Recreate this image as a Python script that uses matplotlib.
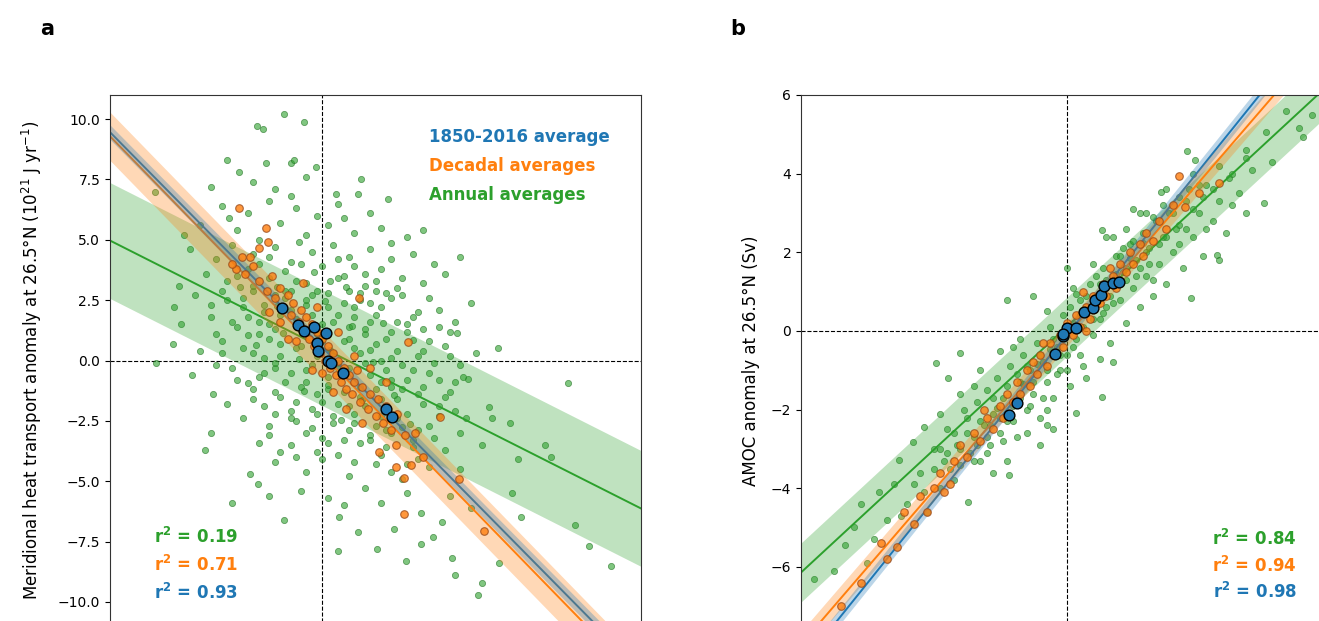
import numpy as np
import matplotlib
matplotlib.use("Agg")
import matplotlib.pyplot as plt

# colours
c_blue = "#1f77b4"
c_orange = "#ff7f0e"
c_green = "#2ca02c"

# ---------------- panel a data ----------------
ann_a = [
    (-0.72, 10.2), (-0.34, 9.9), (-1.24, 9.7), (-1.11, 9.6),
    (-1.8, 8.3), (-0.6, 8.2), (-0.54, 8.3), (-1.07, 8.2), (-0.12, 8.0), (-1.58, 7.8), (0.72, 7.5),
    (-1.3, 7.4), (-0.9, 7.1), (0.25, 6.9), (0.67, 6.9), (1.24, 6.7), (-2.1, 7.2), (-0.3, 7.6), (-3.16, 7.0),
    (-1.9, 6.4), (-1.4, 6.1), (-1.0, 6.6), (-0.5, 6.3), (-0.1, 6.0), (0.3, 6.5), (0.9, 6.1), (-2.3, 5.6),
    (-1.6, 5.4), (-0.8, 5.7), (-0.3, 5.2), (0.1, 5.6), (0.6, 5.3), (1.1, 5.5), (1.6, 5.1), (-1.2, 5.0),
    (-2.6, 5.2), (0.4, 5.9), (-0.6, 6.8), (1.9, 5.4), (-1.75, 5.9),
    (-2.5, 4.6), (-2.0, 4.2), (-1.7, 4.8), (-1.3, 4.4), (-0.9, 4.7), (-0.6, 4.1), (-0.2, 4.5), (0.2, 4.8),
    (0.5, 4.3), (0.9, 4.6), (1.3, 4.2), (1.7, 4.4), (2.1, 4.0), (-2.2, 3.6), (-1.8, 3.3), (-1.4, 3.8),
    (-1.0, 3.4), (-0.7, 3.7), (-0.3, 3.2), (0.0, 3.9), (0.4, 3.5), (0.8, 3.1), (1.1, 3.8), (1.5, 3.4),
    (1.9, 3.2), (-2.7, 3.1), (-1.2, 4.0), (0.6, 3.9), (-0.45, 4.9), (1.3, 4.85), (2.3, 3.6), (-1.55, 3.05),
    (0.15, 3.3), (-0.85, 3.05), (2.6, 4.3),
    (-2.8, 2.2), (-2.4, 2.7), (-2.1, 1.8), (-1.8, 2.5), (-1.6, 1.4), (-1.3, 2.9), (-1.1, 2.0), (-0.9, 1.3),
    (-0.7, 2.6), (-0.5, 1.7), (-0.3, 2.3), (-0.1, 1.1), (0.1, 2.8), (0.3, 1.9), (0.5, 1.4), (0.7, 2.5),
    (0.9, 1.6), (1.1, 2.2), (1.3, 1.2), (1.5, 2.7), (1.7, 1.8), (1.9, 1.3), (2.2, 2.1), (2.5, 1.6),
    (-2.0, 1.1), (-1.5, 2.2), (-0.8, 1.9), (-0.2, 2.7), (0.4, 2.4), (0.8, 1.1), (1.2, 2.8), (1.6, 1.5),
    (2.0, 2.6), (-1.2, 1.6), (0.0, 1.5), (0.6, 1.8), (-0.6, 2.9), (2.8, 2.4), (2.4, 1.2), (-2.66, 1.5),
    (2.54, 1.16), (-1.4, 1.05), (1.0, 2.9), (-0.4, 1.25),
    (-2.81, 0.7), (-3.13, -0.1), (-2.46, -0.6), (-2.3, 0.4), (-1.9, 0.8), (-1.7, -0.3), (-1.5, 0.5),
    (-1.2, -0.7), (-1.0, 0.9), (-0.8, 0.2), (-0.6, -0.5), (-0.4, 0.6), (-0.2, -0.2), (0.0, 0.8), (0.2, 0.3),
    (0.4, -0.6), (0.6, 0.5), (0.8, -0.1), (1.0, 0.7), (1.2, -0.4), (1.4, 0.4), (1.6, -0.8), (1.8, 0.2),
    (2.0, -0.5), (2.3, 0.6), (2.6, -0.2), (2.9, 0.3), (-2.0, -0.2), (-1.1, 0.1), (-0.3, -0.9), (0.5, 0.9),
    (1.1, -0.9), (1.7, 0.85), (2.2, -0.8), (-0.9, -0.3), (0.3, -0.3), (1.3, 0.1), (2.75, -0.75), (2.65, -0.7),
    (3.3, 0.5), (-1.4, -0.95), (0.1, -0.7), (0.9, 0.45),
    (-2.06, -1.4), (-2.1, -3.0), (-1.8, -1.8), (-1.5, -2.4), (-1.3, -1.2), (-1.0, -2.7), (-0.8, -1.5),
    (-0.6, -2.1), (-0.4, -1.1), (-0.2, -2.8), (0.0, -1.7), (0.2, -2.3), (0.4, -1.3), (0.6, -2.6), (0.8, -1.9),
    (1.0, -1.2), (1.2, -2.9), (1.4, -1.6), (1.6, -2.2), (1.8, -1.4), (2.0, -2.7), (2.2, -1.9), (2.4, -1.3),
    (2.7, -2.4), (3.13, -1.94), (3.53, -2.6), (3.2, -2.4), (4.63, -0.95), (-1.1, -1.9), (-0.5, -2.5),
    (0.1, -1.2), (0.7, -1.5), (1.1, -2.3), (1.5, -2.75), (1.9, -1.1), (2.5, -2.1), (-0.1, -2.2), (0.5, -1.9),
    (-0.9, -2.2), (1.3, -1.1),
    (-2.22, -3.7), (-1.36, -4.7), (-1.22, -5.1), (-1.2, -3.4), (-0.9, -4.2), (-0.6, -3.5), (-0.3, -4.6),
    (0.0, -3.2), (0.3, -3.9), (0.5, -4.8), (0.7, -3.4), (1.0, -4.3), (1.2, -3.6), (1.5, -4.9), (1.7, -3.3),
    (2.0, -4.4), (2.3, -3.7), (2.6, -4.5), (3.0, -3.5), (4.2, -3.5), (4.3, -4.0), (3.69, -4.07), (-0.1, -3.8),
    (0.9, -3.1), (1.8, -4.1), (-0.5, -4.0), (0.4, -3.3), (1.3, -4.6),
    (-1.71, -5.9), (-0.72, -6.6), (0.31, -6.5), (0.67, -7.1), (1.35, -7.0), (1.86, -6.3), (2.26, -6.7),
    (2.09, -7.3), (3.57, -5.5), (3.74, -6.5), (4.75, -6.8), (-0.4, -5.4), (0.1, -5.7), (0.8, -5.3),
    (1.1, -5.9), (1.6, -5.5), (2.4, -5.6), (2.8, -6.1), (-1.0, -5.6), (0.4, -6.0),
    (1.03, -7.8), (1.58, -8.3), (1.86, -7.6), (2.45, -8.2), (2.5, -8.9), (2.93, -9.7), (3.0, -9.2),
    (3.33, -8.4), (5.03, -7.7), (5.43, -8.5), (0.3, -7.9),
    # dense core
    (-1.3, 3.1), (-0.9, 2.7), (-0.5, 3.3), (-0.1, 2.9), (0.3, 3.4), (0.7, 2.8), (1.0, 3.3), (-1.5, 2.6),
    (-1.1, 2.3), (-0.7, 2.9), (-0.3, 2.5), (0.1, 2.2), (0.5, 2.9), (0.9, 2.4), (1.3, 2.6),
    (-1.4, 1.8), (-1.0, 1.5), (-0.6, 2.1), (-0.2, 1.9), (0.2, 1.6), (0.6, 2.2), (1.0, 1.9), (1.4, 1.6),
    (1.8, 2.0), (-1.2, 1.1), (-0.8, 0.7), (-0.4, 1.4), (0.0, 1.1), (0.4, 0.8), (0.8, 1.3), (1.2, 0.9),
    (1.6, 1.2), (2.0, 0.8), (-1.3, 0.3), (-0.9, -0.1), (-0.5, 0.5), (-0.1, 0.2), (0.3, -0.1), (0.7, 0.3),
    (1.1, 0.0), (1.5, -0.2), (1.9, 0.4), (-1.1, -0.5), (-0.7, -0.9), (-0.3, -0.4), (0.1, -1.0), (0.5, -0.3),
    (0.9, -0.6), (1.3, -0.8), (1.7, -0.4), (2.1, -0.1), (-0.9, -1.3), (-0.5, -1.7), (-0.1, -1.4), (0.3, -1.8),
    (0.7, -1.1), (1.1, -1.6), (1.5, -1.2), (1.9, -1.8), (2.3, -1.5), (-0.6, -2.4), (-0.2, -2.0), (0.2, -2.6),
    (0.6, -2.2), (1.0, -2.7), (1.4, -2.4), (1.8, -2.9), (2.2, -2.3), (-0.3, -3.0), (0.1, -3.4), (0.5, -2.9),
    (0.9, -3.3), (1.3, -3.0), (1.7, -3.6), (2.1, -3.2), (0.0, -4.1), (0.6, -4.2), (1.1, -3.9), (1.6, -4.3),
    (-1.6, 3.5), (-1.0, 4.3), (-0.4, 4.0), (0.3, 4.2), (0.8, 3.6), (1.4, 3.0), (-1.9, 2.9), (-2.1, 2.3),
    (-1.7, 1.6), (-1.9, 0.3), (-1.6, -0.8), (-1.3, -1.6), (-1.0, -3.1), (-0.8, -3.8), (2.5, -0.9),
    (2.6, -3.0), (2.4, 0.2), (2.2, 1.4), (-0.45, 0.05), (0.55, 1.45), (0.15, 0.45), (-0.75, 1.15),
    (0.95, -0.05), (1.35, -1.45), (-0.35, -1.25), (0.75, -1.65), (-0.85, 2.25), (0.05, 2.45), (1.15, 1.55),
    (-1.25, 0.65), (1.65, -2.65), (0.35, -2.45), (-0.15, 3.65), (0.45, 3.05),
]
dec_a = [
    (-1.58, 6.3), (-1.07, 5.5), (-1.19, 4.65), (-1.02, 4.9), (-1.62, 3.8), (-1.51, 4.3), (-1.36, 4.3),
    (-0.36, 3.2), (0.68, 2.6), (2.22, -2.35), (2.58, -4.9), (3.05, -7.05), (1.53, -6.35), (1.62, 0.75),
    (1.9, -4.0), (1.66, -4.35), (1.39, -4.4), (1.07, -3.8), (1.75, -3.0), (1.39, -3.5), (1.54, -4.85),
    (-1.7, 4.0), (-1.45, 3.6), (-1.3, 3.9), (-1.2, 3.3), (-1.05, 2.9), (-0.95, 3.5), (-0.9, 2.6), (-0.8, 3.0),
    (-0.75, 2.2), (-0.65, 2.7), (-0.6, 1.9), (-0.55, 2.4), (-0.45, 1.6), (-0.4, 2.1), (-0.35, 1.3), (-0.3, 1.8),
    (-0.25, 0.9), (-0.2, 1.5), (-0.15, 0.6), (-0.1, 1.2), (-0.05, 0.3), (0.0, 0.9), (0.05, 0.0), (0.1, 0.6),
    (0.15, -0.3), (0.2, 0.3), (0.25, -0.6), (0.3, 0.0), (0.35, -0.9), (0.4, -0.3), (0.45, -1.2), (0.5, -0.6),
    (0.55, -1.4), (0.6, -0.9), (0.7, -1.7), (0.75, -1.1), (0.85, -2.0), (0.9, -1.4), (1.0, -2.3), (1.05, -1.6),
    (1.15, -2.6), (1.2, -1.9), (1.3, -2.9), (1.4, -2.2), (1.55, -3.1), (-0.5, 0.8), (0.0, -0.5), (0.6, 0.2),
    (-0.8, 1.6), (0.3, 1.2), (-0.2, -0.4), (0.9, -0.3), (0.45, -2.0), (-1.0, 2.0), (-0.1, 2.2), (0.2, -1.3),
    (0.75, -2.6), (1.2, -0.9), (-0.65, 0.9), (0.65, -0.4),
]
avg_a = [
    (-0.76, 2.17), (-0.46, 1.49), (-0.34, 1.24), (-0.16, 1.38), (0.06, 1.15), (-0.1, 0.73),
    (-0.08, 0.39), (0.10, -0.04), (0.16, -0.11), (0.39, -0.51), (1.19, -2.03), (1.32, -2.36),
]
# fits: (intercept, slope, band half-width)
fit_a = {"ann": (0.53, -1.11, 2.4), "dec": (0.25, -2.26, 1.0), "avg": (0.54, -2.23, 0.3)}
r2_a = {"ann": "0.19", "dec": "0.71", "avg": "0.93"}

# ---------------- panel b data ----------------
ann_b = [
    (-3.8, -6.3), (-3.34, -5.44), (-3.2, -4.98), (-2.83, -4.09), (-2.52, -3.28), (-2.32, -2.82), (-2.14, -2.43),
    (-1.97, -0.82), (-1.6, -0.57), (-1.79, -1.2), (-1.48, -4.35), (-0.87, -3.66), (0.53, -1.68), (0.15, -2.08),
    (-0.3, -2.39), (-3.0, -5.9), (-3.5, -6.1), (-2.7, -4.8), (-2.9, -5.3), (-2.4, -4.4), (-2.6, -3.9), (-3.1, -4.4),
    (1.82, 4.57), (1.93, 4.35), (3.0, 5.06), (3.5, 5.16), (3.57, 4.93), (2.97, 3.25), (2.27, 1.93), (1.88, 0.84),
    (-0.9, 0.79), (0.53, 2.57), (1.42, 3.53), (2.5, 4.0), (3.3, 5.6), (3.7, 5.5), (2.7, 4.6), (2.2, 3.6), (3.1, 4.3),
    (-2.2, -3.6), (-2.1, -4.6), (-2.0, -3.0), (-1.9, -4.0), (-1.85, -3.3), (-1.8, -2.5), (-1.7, -3.8),
    (-1.65, -2.9), (-1.6, -3.4), (-1.5, -2.2), (-1.45, -3.1), (-1.4, -2.7), (-1.35, -1.8), (-1.3, -3.3),
    (-1.25, -2.4), (-1.2, -1.5), (-1.15, -2.9), (-1.1, -2.1), (-1.05, -1.2), (-1.0, -2.6), (-0.95, -1.7),
    (-0.9, -2.3), (-0.85, -0.9), (-0.8, -1.9), (-0.75, -2.7), (-0.7, -1.3), (-0.65, -0.6), (-0.6, -2.0),
    (-0.55, -1.0), (-0.5, -1.6), (-0.45, -0.3), (-0.4, -2.2), (-0.35, -0.8), (-0.3, -1.3), (-0.25, 0.1),
    (-0.2, -1.7), (-0.15, -0.4), (-0.1, -1.0), (-0.05, 0.4), (0.0, -0.6), (0.05, -1.4), (0.1, 0.2),
    (0.15, -0.2), (0.2, 0.8), (0.25, -0.9), (0.3, 0.5), (0.35, 1.2), (0.4, -0.1), (0.45, 0.9), (0.5, 0.3),
    (0.55, 1.6), (0.6, 0.6), (0.65, -0.3), (0.7, 1.3), (0.75, 1.9), (0.8, 0.8), (0.85, 1.5), (0.9, 0.2),
    (0.95, 2.2), (1.0, 1.1), (1.05, 1.8), (1.1, 0.6), (1.15, 2.5), (1.2, 1.4), (1.25, 2.1), (1.3, 0.9),
    (1.35, 2.8), (1.4, 1.7), (1.45, 2.4), (1.5, 1.2), (1.55, 3.0), (1.6, 2.0), (1.7, 2.7), (1.75, 1.6),
    (1.8, 3.3), (1.9, 2.4), (2.0, 3.0), (2.05, 1.9), (2.1, 3.7), (2.2, 2.8), (2.3, 3.3), (2.4, 2.5),
    (2.45, 3.9), (2.6, 3.5), (2.7, 3.0), (2.8, 4.1), (-0.7, -0.2), (-0.3, 0.5), (0.1, 1.1), (0.5, -0.7),
    (-1.0, -0.5), (-1.3, -1.0), (0.9, 1.6), (-0.2, -2.5), (0.3, -1.2), (1.2, 3.0), (-1.6, -1.6), (-2.5, -4.7),
    (-1.9, -2.1), (0.7, -0.8), (1.5, 3.6), (-0.5, 0.9), (0.0, 1.6), (-0.9, -3.3), (1.9, 4.0), (2.3, 1.8),
    (-1.1, -3.6), (-0.4, -2.9), (0.6, 2.4), (1.0, 3.1),
    # dense core
    (-1.8, -3.1), (-1.7, -2.6), (-1.6, -3.0), (-1.5, -2.6), (-1.4, -3.3), (-1.3, -2.3), (-1.2, -2.7),
    (-1.1, -1.7), (-1.0, -2.2), (-0.9, -1.4), (-0.8, -2.3), (-0.7, -1.7), (-0.6, -0.9), (-0.5, -1.3),
    (-0.4, -0.6), (-0.3, -1.0), (-0.2, -0.2), (-0.1, -0.6), (0.0, 0.1), (0.1, -0.4), (0.2, 0.4), (0.3, 0.9),
    (0.4, 0.3), (0.5, 1.2), (0.6, 1.3), (0.7, 0.7), (0.8, 1.9), (0.9, 1.3), (1.0, 2.3), (1.1, 1.6),
    (1.2, 2.0), (1.3, 2.9), (1.4, 2.2), (1.5, 2.4), (1.6, 3.0), (1.7, 3.4), (1.8, 2.6), (1.9, 3.1),
    (2.0, 3.7), (2.1, 2.6), (-1.75, -3.5), (-1.55, -2.0), (-1.35, -2.9), (-1.15, -2.4), (-0.95, -2.8),
    (-0.75, -1.1), (-0.55, -1.9), (-0.35, -1.7), (-0.15, -1.1), (0.05, 0.6), (0.25, 0.1), (0.45, 1.4),
    (0.65, 0.9), (0.85, 2.1), (1.05, 1.4), (1.25, 1.7), (1.45, 3.2), (1.65, 2.6), (1.85, 3.6), (2.05, 3.4),
    (-2.3, -3.9), (-2.0, -3.5), (-1.9, -3.0), (-2.15, -4.1), (-1.2, -3.1), (-0.6, -2.6), (0.0, -1.0),
    (0.4, 1.7), (0.9, 2.6), (1.3, 1.3), (1.7, 2.2), (2.3, 4.2), (2.5, 3.2), (2.7, 4.4), (-0.3, -2.0),
    (0.2, -0.6), (0.7, 2.4), (1.1, 3.0), (-1.4, -1.4), (-0.8, -0.4), (-0.45, -0.85), (0.35, 0.55),
    (0.75, 1.45), (-1.05, -1.95), (1.15, 2.25), (-0.25, -0.45), (0.55, 0.45), (-0.65, -1.35), (0.15, 0.95),
    (0.95, 1.85),
]
dec_b = [
    (-2.56, -5.5), (1.70, 3.94), (2.3, 3.77), (1.99, 3.5), (1.79, 3.15), (-2.3, -4.9), (-2.1, -4.6),
    (-2.0, -4.0), (-1.9, -3.6), (-1.75, -3.9), (-1.7, -3.3), (-1.6, -2.9), (-1.5, -3.2), (-1.4, -2.6),
    (-1.3, -2.8), (-1.2, -2.2), (-1.1, -2.5), (-1.0, -1.9), (-0.95, -2.2), (-0.9, -1.6), (-0.8, -1.8),
    (-0.75, -1.3), (-0.7, -1.6), (-0.6, -1.0), (-0.55, -1.4), (-0.5, -0.8), (-0.45, -1.1), (-0.4, -0.6),
    (-0.3, -0.9), (-0.25, -0.3), (-0.2, -0.6), (-0.1, -0.1), (-0.05, -0.4), (0.0, 0.2), (0.1, -0.1),
    (0.15, 0.4), (0.2, 0.1), (0.3, 0.6), (0.35, 0.3), (0.4, 0.9), (0.5, 0.7), (0.55, 1.2), (0.6, 0.9),
    (0.7, 1.4), (0.75, 1.1), (0.8, 1.7), (0.9, 1.5), (0.95, 2.0), (1.0, 1.7), (1.1, 2.2), (1.15, 1.9),
    (1.2, 2.5), (1.3, 2.3), (1.4, 2.8), (1.5, 2.6), (-3.1, -6.4), (-2.8, -5.4), (-2.7, -5.8), (-2.45, -4.6),
    (-2.2, -4.2), (-1.85, -4.1), (-3.4, -7.0), (1.6, 3.2), (0.3, 0.0), (-0.35, -0.3), (0.65, 1.6),
    (-1.25, -2.0), (0.25, 1.0),
]
avg_b = [
    (-0.86, -2.13), (-0.74, -1.84), (-0.18, -0.59), (-0.05, -0.13), (0.0, 0.07), (0.14, 0.07),
    (0.27, 0.49), (0.40, 0.58), (0.43, 0.79), (0.52, 0.91), (0.57, 1.14), (0.70, 1.23), (0.79, 1.25),
    (-0.06, -0.08),
]
fit_b = {"ann": (0.10, 1.56, 0.75), "dec": (-0.13, 1.96, 0.3), "avg": (-0.11, 2.10, 0.2)}
r2_b = {"ann": "0.84", "dec": "0.94", "avg": "0.98"}

W, H = 1319, 621
fig = plt.figure(figsize=(W / 100, H / 100), dpi=100)


def px_axes(left, top, w, h):
    return fig.add_axes([left / W, 1 - (top + h) / H, w / W, h / H])


def draw_panel(ax, ann, dec, avg, fits, xlim):
    xs = np.array(xlim)
    ax.axhline(0, color="k", ls="--", lw=0.8, zorder=0.5)
    ax.axvline(0, color="k", ls="--", lw=0.8, zorder=0.5)

    ax.scatter([p[0] for p in ann], [p[1] for p in ann], s=20, color=c_green, alpha=0.6,
               edgecolors="#1b6e1b", linewidths=0.6, zorder=1)

    # annual fit
    b0, b1, hw = fits["ann"]
    ys = b0 + b1 * xs
    ax.fill_between(xs, ys - hw, ys + hw, color=c_green, alpha=0.3, lw=0, zorder=2)
    ax.plot(xs, ys, color=c_green, lw=1.4, zorder=2.1)

    # decadal and long-term fits: lines first, bands laid over them
    b0, b1, hw = fits["dec"]
    ys = b0 + b1 * xs
    ax.plot(xs, ys, color=c_orange, lw=1.4, zorder=2.2)
    b0a, b1a, hwa = fits["avg"]
    ysa = b0a + b1a * xs
    ax.plot(xs, ysa, color=c_blue, lw=1.4, zorder=2.3)
    ax.fill_between(xs, ys - hw, ys + hw, color=c_orange, alpha=0.3, lw=0, zorder=2.4)
    ax.fill_between(xs, ysa - hwa, ysa + hwa, color=c_blue, alpha=0.3, lw=0, zorder=2.5)

    ax.scatter([p[0] for p in dec], [p[1] for p in dec], s=30, color=c_orange, alpha=0.8,
               edgecolors="#9a4a1a", linewidths=0.8, zorder=3)
    ax.scatter([p[0] for p in avg], [p[1] for p in avg], s=60, color=c_blue,
               edgecolors="k", linewidths=1.0, zorder=4)
    ax.set_xlim(xlim)
    ax.tick_params(axis="x", labelbottom=False)
    for sp in ax.spines.values():
        sp.set_color("#333333")


# ---- panel a ----
ax_a = px_axes(110, 95, 531, 531)
draw_panel(ax_a, ann_a, dec_a, avg_a, fit_a, (-4, 6))
ax_a.set_ylim(-11, 11)
ax_a.set_yticks([-10, -7.5, -5, -2.5, 0, 2.5, 5, 7.5, 10])
ax_a.set_ylabel("Meridional heat transport anomaly at 26.5°N (10$^{21}$ J yr$^{-1}$)",
                fontsize=12, labelpad=10)

ax_a.text(0.601, 0.921, "1850-2016 average", color=c_blue, fontsize=12, fontweight="bold",
          transform=ax_a.transAxes, va="center")
ax_a.text(0.601, 0.866, "Decadal averages", color=c_orange, fontsize=12, fontweight="bold",
          transform=ax_a.transAxes, va="center")
ax_a.text(0.601, 0.812, "Annual averages", color=c_green, fontsize=12, fontweight="bold",
          transform=ax_a.transAxes, va="center")

for yy, key, col in [(0.168, "ann", c_green), (0.115, "dec", c_orange), (0.062, "avg", c_blue)]:
    ax_a.text(0.083, yy, r"r$^{\mathbf{2}}$ = " + r2_a[key], color=col, fontsize=12,
              fontweight="bold", transform=ax_a.transAxes, va="center")

# ---- panel b ----
ax_b = px_axes(801, 95, 531, 531)
draw_panel(ax_b, ann_b, dec_b, avg_b, fit_b, (-4, 4))
ax_b.set_ylim(-7.5, 6)
ax_b.set_yticks([-6, -4, -2, 0, 2, 4, 6])
ax_b.set_ylabel("AMOC anomaly at 26.5°N (Sv)", fontsize=12, labelpad=8)

for yy, key, col in [(0.164, "ann", c_green), (0.113, "dec", c_orange), (0.064, "avg", c_blue)]:
    ax_b.text(0.934, yy, r"r$^{\mathbf{2}}$ = " + r2_b[key], color=col, fontsize=12,
              fontweight="bold", transform=ax_b.transAxes, va="center", ha="right")

# panel letters
fig.text(47 / W, 1 - 29 / H, "a", fontsize=15, fontweight="bold", ha="center", va="center")
fig.text(738 / W, 1 - 29 / H, "b", fontsize=15, fontweight="bold", ha="center", va="center")

fig.savefig("out.png", dpi=100)
